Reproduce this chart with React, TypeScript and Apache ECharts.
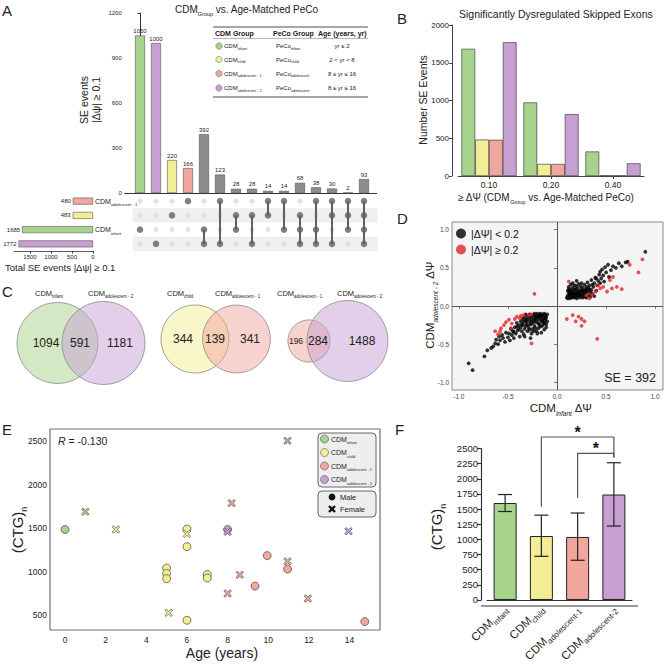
import React, { useEffect, useRef } from 'react';
import * as echarts from 'echarts';

const FONT = '"Liberation Sans", Arial, Helvetica, sans-serif';
const INK = '#222222';
const GREEN = '#a8d38c';
const YELLOW = '#f3ed96';
const SALMON = '#f2a69d';
const PURPLE = '#c89fd3';
const GRAY = '#8c8c8c';

// ---------- Panel A : UpSet ----------
const upsetCounts = [1050, 1000, 220, 166, 392, 123, 28, 28, 14, 14, 68, 38, 30, 2, 93];
// row indices: 0 adolescent-1, 1 child, 2 infant, 3 adolescent-2
const upsetMembers = [[2], [3], [1], [0], [2, 3], [0, 3], [1, 2], [1, 3], [0, 1], [0, 2], [1, 2, 3], [0, 2, 3], [0, 1, 3], [0, 1, 2], [0, 1, 2, 3]];
const upsetYTicks = [0, 300, 600, 900, 1200];
const setNames = ['adolescent - 1', 'child', 'infant', 'adolescent - 2'];
const setTotals = [480, 483, 1685, 1772];
const setTotalTicks = [0, 500, 1000, 1500];
const setColors = [SALMON, YELLOW, GREEN, PURPLE];

const tableCdm = ['infant', 'child', 'adolescent - 1', 'adolescent - 2'];
const tablePeco = ['infant', 'child', 'adolescent', 'adolescent'];
const tableAge = ['yr ≤ 2', '2 < yr < 8', '8 ≤ yr ≤ 16', '8 ≤ yr ≤ 16'];
const tableColors = [GREEN, YELLOW, SALMON, PURPLE];

// ---------- Panel B ----------
const bThresholds = ['0.10', '0.20', '0.40'];
const bInfant = [1685, 975, 325];
const bChild = [483, 160, 8];
const bAdol1 = [480, 160, 6];
const bAdol2 = [1772, 820, 168];
const bTicks = [0, 500, 1000, 1500, 2000];

// ---------- Panel C : Venn ----------
const vennSetA = ['infant', 'child', 'adolescent - 1'];
const vennSetB = ['adolescent - 2', 'adolescent - 1', 'adolescent - 2'];
const vennOnlyA = [1094, 344, 196];
const vennBoth = [591, 139, 284];
const vennOnlyB = [1181, 341, 1488];
const vennColorA = [GREEN, YELLOW, SALMON];
const vennColorB = [PURPLE, SALMON, PURPLE];

// ---------- Panel D ----------
const dTicks = [-1, -0.5, 0, 0.5, 1];
const dSmall = [
  [0.10, 0.11], [0.11, 0.14], [0.12, 0.12], [0.12, 0.18], [0.13, 0.10], [0.13, 0.15], [0.14, 0.21], [0.14, 0.12], [0.15, 0.17], [0.15, 0.11],
  [0.16, 0.24], [0.16, 0.13], [0.17, 0.19], [0.17, 0.11], [0.18, 0.15], [0.18, 0.27], [0.19, 0.12], [0.19, 0.21], [0.20, 0.17], [0.20, 0.10],
  [0.21, 0.23], [0.21, 0.13], [0.22, 0.19], [0.22, 0.29], [0.23, 0.11], [0.23, 0.16], [0.24, 0.21], [0.24, 0.26], [0.25, 0.13], [0.25, 0.18],
  [0.26, 0.24], [0.26, 0.11], [0.27, 0.20], [0.27, 0.15], [0.28, 0.28], [0.28, 0.12], [0.29, 0.22], [0.29, 0.17], [0.30, 0.25], [0.30, 0.11],
  [0.31, 0.19], [0.31, 0.31], [0.32, 0.14], [0.32, 0.23], [0.33, 0.27], [0.34, 0.18], [0.34, 0.12], [0.35, 0.21], [0.35, 0.34], [0.36, 0.16],
  [0.37, 0.25], [0.38, 0.30], [0.38, 0.13], [0.39, 0.37], [0.40, 0.20], [0.41, 0.27], [0.42, 0.33], [0.43, 0.41], [0.44, 0.30], [0.45, 0.36],
  [0.46, 0.48], [0.47, 0.40], [0.48, 0.32], [0.49, 0.51], [0.50, 0.44], [0.52, 0.54], [0.53, 0.38], [0.55, 0.47], [0.57, 0.52], [0.60, 0.50],
  [0.63, 0.56], [0.66, 0.52], [0.70, 0.57], [0.72, 0.58], [0.90, 0.71], [0.11, 0.20], [0.12, 0.25], [0.14, 0.28], [0.16, 0.30], [0.13, 0.17],
  [0.18, 0.22], [0.20, 0.26], [0.19, 0.15], [0.15, 0.14], [0.21, 0.18], [0.24, 0.15], [0.26, 0.20], [0.11, 0.10], [0.17, 0.16], [0.22, 0.14],
  [0.28, 0.17], [0.30, 0.20], [0.33, 0.22], [0.36, 0.28], [0.40, 0.36], [0.44, 0.45], [0.25, 0.30], [0.20, 0.33], [0.12, 0.22], [0.15, 0.19],
  [-0.10, -0.11], [-0.11, -0.15], [-0.12, -0.12], [-0.12, -0.19], [-0.13, -0.10], [-0.13, -0.23], [-0.14, -0.14], [-0.14, -0.17], [-0.15, -0.11], [-0.15, -0.26],
  [-0.16, -0.13], [-0.16, -0.20], [-0.17, -0.10], [-0.17, -0.16], [-0.18, -0.24], [-0.18, -0.12], [-0.19, -0.18], [-0.19, -0.29], [-0.20, -0.14], [-0.20, -0.10],
  [-0.21, -0.21], [-0.21, -0.33], [-0.22, -0.12], [-0.22, -0.17], [-0.23, -0.26], [-0.23, -0.10], [-0.24, -0.15], [-0.24, -0.21], [-0.25, -0.30], [-0.25, -0.12],
  [-0.26, -0.18], [-0.26, -0.36], [-0.27, -0.24], [-0.27, -0.14], [-0.28, -0.11], [-0.28, -0.20], [-0.29, -0.28], [-0.29, -0.16], [-0.30, -0.13], [-0.30, -0.33],
  [-0.31, -0.22], [-0.31, -0.18], [-0.32, -0.26], [-0.32, -0.11], [-0.33, -0.15], [-0.33, -0.30], [-0.34, -0.21], [-0.34, -0.37], [-0.35, -0.25], [-0.35, -0.17],
  [-0.36, -0.33], [-0.37, -0.28], [-0.37, -0.20], [-0.38, -0.40], [-0.39, -0.25], [-0.40, -0.32], [-0.41, -0.22], [-0.42, -0.36], [-0.43, -0.28], [-0.44, -0.42],
  [-0.45, -0.33], [-0.46, -0.38], [-0.47, -0.30], [-0.48, -0.45], [-0.49, -0.36], [-0.50, -0.41], [-0.52, -0.35], [-0.53, -0.47], [-0.55, -0.42], [-0.56, -0.38],
  [-0.58, -0.45], [-0.59, -0.40], [-0.60, -0.50], [-0.62, -0.44], [-0.63, -0.49], [-0.65, -0.53], [-0.67, -0.55], [-0.71, -0.58], [-0.74, -0.66], [-0.90, -0.75],
  [-0.86, -0.84], [-0.11, -0.28], [-0.13, -0.31], [-0.15, -0.19], [-0.17, -0.27], [-0.19, -0.23], [-0.20, -0.36], [-0.22, -0.29], [-0.24, -0.33], [-0.16, -0.35],
  [-0.14, -0.22], [-0.12, -0.16], [-0.18, -0.14], [-0.21, -0.15], [-0.23, -0.19], [-0.26, -0.23], [-0.28, -0.31], [-0.30, -0.25], [-0.32, -0.19], [-0.36, -0.24],
  [-0.39, -0.30], [-0.41, -0.27], [-0.44, -0.34], [-0.27, -0.42], [-0.33, -0.40], [-0.10, -0.20], [-0.11, -0.24],
];
const dLarge = [
  [0.12, 0.32], [0.33, 0.10], [0.30, 0.14], [0.39, 0.19], [0.44, 0.23], [0.47, 0.25], [0.51, 0.19], [0.54, 0.34], [0.57, 0.38], [0.56, 0.23],
  [0.61, 0.25], [0.66, 0.22], [0.74, 0.54], [0.87, 0.61], [0.83, 0.44], [0.42, 0.27], [0.36, 0.15],
  [0.10, -0.17], [0.16, -0.12], [0.22, -0.14], [0.19, -0.20], [0.28, -0.20], [0.25, -0.26], [0.25, -0.17], [0.41, -0.43],
  [-0.23, 0.16],
  [-0.63, -0.33], [-0.57, -0.29], [-0.54, -0.25], [-0.49, -0.18], [-0.46, -0.23], [-0.41, -0.14], [-0.37, -0.13], [-0.29, -0.12], [-0.26, -0.11],
  [-0.34, -0.12], [-0.47, -0.29], [-0.60, -0.37], [-0.52, -0.21], [-0.43, -0.17], [-0.26, -0.49], [-0.58, -0.33], [-0.38, -0.16],
];

// ---------- Panel E ----------
const eAgeTicks = [0, 2, 4, 6, 8, 10, 12, 14];
const eCtgTicks = [500, 1000, 1500, 2000, 2500];
const eInfantAge = [0, 1];
const eInfantCtg = [1485, 1690];
const eInfantSex = ['M', 'F'];
const eChildAge = [2.5, 5, 5, 5, 5.1, 6, 6, 6, 6, 7, 7];
const eChildCtg = [1485, 1042, 980, 920, 527, 1490, 1435, 1288, 442, 968, 927];
const eChildSex = ['F', 'M', 'M', 'M', 'F', 'M', 'F', 'M', 'M', 'M', 'M'];
const eAdol1Age = [8.2, 8, 8.6, 9.35, 9.95, 10.95, 10.95, 11.95, 14.75];
const eAdol1Ctg = [1788, 750, 965, 835, 1185, 1119, 1031, 692, 427];
const eAdol1Sex = ['F', 'F', 'F', 'M', 'M', 'F', 'M', 'F', 'M'];
const eAdol2Age = [8, 8, 10.95, 13.95];
const eAdol2Ctg = [1485, 1458, 2505, 1465];
const eAdol2Sex = ['M', 'F', 'F', 'F'];

// ---------- Panel F ----------
const fGroups = ['infant', 'child', 'adolescent-1', 'adolescent-2'];
const fMeans = [1600, 1055, 1040, 1740];
const fLow = [1460, 720, 655, 1220];
const fHigh = [1740, 1400, 1435, 2265];
const fColors = [GREEN, YELLOW, SALMON, PURPLE];
// [from group, to group, top, left leg end, right leg end]
const fBrackets = [[1, 3, 2690, 1540, 2350], [2, 3, 2420, 1685, 2350]];

const X_PATH = 'path://M1.8,0 L5,3.2 L8.2,0 L10,1.8 L6.8,5 L10,8.2 L8.2,10 L5,6.8 L1.8,10 L0,8.2 L3.2,5 L0,1.8 Z';

function rgba(hex: string, a: number) {
  const n = parseInt(hex.slice(1), 16);
  return `rgba(${(n >> 16) & 255},${(n >> 8) & 255},${n & 255},${a})`;
}

const plain = (v: number) => String(v);

function rich(size: number, sub: number, o: any = {}) {
  const fill = o.fill || INK;
  const base = { fontFamily: FONT, fill, color: fill };
  const lh = Math.round(size * 1.5);
  return {
    m: { ...base, fontSize: size, lineHeight: lh },
    s: { ...base, fontSize: sub, lineHeight: sub, verticalAlign: 'bottom', fontStyle: o.subItalic ? 'italic' : 'normal' },
    i: { ...base, fontSize: size, lineHeight: lh, fontStyle: 'italic' },
    b: { ...base, fontSize: size, lineHeight: lh, fontWeight: 'bold' },
  };
}

function txt(x: number, y: number, text: string, size: number, o: any = {}) {
  const align = o.align || 'left';
  const va = o.va || 'middle';
  return {
    type: 'text', x, y, rotation: o.rot || 0, silent: true, z: 50,
    style: {
      text, fontSize: size, fontFamily: FONT, fill: o.fill || INK,
      fontWeight: o.weight || 'normal', fontStyle: o.italic ? 'italic' : 'normal',
      align, verticalAlign: va, textAlign: align, textVerticalAlign: va,
      lineHeight: o.lh, rich: o.rich,
    },
  };
}

function buildOption() {
  const g: any[] = [];
  // panel letters
  g.push(txt(2, 10.5, 'A', 15), txt(397, 18, 'B', 15), txt(2, 291, 'C', 15), txt(397, 218, 'D', 15), txt(2, 429, 'E', 15), txt(395, 429, 'F', 15));

  // Panel A title and table
  g.push(txt(175, 9, '{m|CDM}{s|Group}{m| vs. Age-Matched PeCo}', 10, { rich: rich(10, 5.5) }));
  g.push({ type: 'line', silent: true, shape: { x1: 213, y1: 27, x2: 368, y2: 27 }, style: { stroke: '#8a8a8a', lineWidth: 1.5 } });
  g.push({ type: 'line', silent: true, shape: { x1: 213, y1: 38.5, x2: 368, y2: 38.5 }, style: { stroke: '#9a9a9a', lineWidth: 0.7 } });
  g.push({ type: 'line', silent: true, shape: { x1: 213, y1: 97, x2: 368, y2: 97 }, style: { stroke: '#8a8a8a', lineWidth: 1.5 } });
  g.push(txt(215, 33, 'CDM Group', 7, { weight: 'bold' }), txt(273, 33, 'PeCo Group', 7, { weight: 'bold' }), txt(318, 33, 'Age (years, yr)', 7, { weight: 'bold' }));
  const rowY = [46, 59.5, 73.5, 88];
  tableCdm.forEach((c, i) => {
    g.push({ type: 'circle', silent: true, shape: { cx: 219, cy: rowY[i], r: 3.2 }, style: { fill: tableColors[i], stroke: '#777', lineWidth: 0.6 } });
    g.push(txt(224, rowY[i], `{m|CDM}{s|${c}}`, 6, { rich: rich(6, 3.8) }));
    g.push(txt(276, rowY[i], `{m|PeCo}{s|${tablePeco[i]}}`, 6, { rich: rich(6, 3.8) }));
    g.push(txt(342, rowY[i], tableAge[i], 6, { align: 'center' }));
  });
  g.push(txt(90, 100, 'SE events\n|Δψ| ≥ 0.1', 10.5, { rot: Math.PI / 2, align: 'center', lh: 12.5 }));
  g.push(txt(5, 267, 'Total SE events |Δψ| ≥ 0.1', 9.5));

  // Panel B texts
  g.push(txt(459, 14, 'Significantly Dysregulated Skipped Exons', 10.5));
  g.push(txt(423, 100, 'Number SE Events', 10.5, { rot: Math.PI / 2, align: 'center' }));
  g.push(txt(458, 197, '{m|≥ ΔΨ (CDM}{s|Group}{m| vs. Age-Matched PeCo)}', 10, { rich: rich(10, 5.5) }));

  // Panel C Venn diagrams
  const vScale = [0.986, 1.547, 0.962];
  const vCxA = [57.5, 195, 309];
  const vCxB = [103.5, 236.5, 347.5];
  const vCy = [343, 339, 341];
  const vLabA = [35, 167, 277];
  const vLabB = [88, 215, 337];
  const vNumA = [46, 183, 296];
  const vNumBoth = [80, 215, 318];
  const vNumB = [120, 250, 362];
  vennSetA.forEach((a, k) => {
    const rA = vScale[k] * Math.sqrt(vennOnlyA[k] + vennBoth[k]);
    const rB = vScale[k] * Math.sqrt(vennOnlyB[k] + vennBoth[k]);
    g.push({ type: 'circle', silent: true, z: 10, shape: { cx: vCxA[k], cy: vCy[k], r: rA }, style: { fill: rgba(vennColorA[k], 0.5), stroke: '#8a8a8a', lineWidth: 0.8 } });
    g.push({ type: 'circle', silent: true, z: 11, shape: { cx: vCxB[k], cy: vCy[k], r: rB }, style: { fill: rgba(vennColorB[k], 0.5), stroke: '#8a8a8a', lineWidth: 0.8 } });
    g.push(txt(vLabA[k], 293, `{m|CDM}{s|${a}}`, 7.5, { rich: rich(7.5, 4.5) }));
    g.push(txt(vLabB[k], 293, `{m|CDM}{s|${vennSetB[k]}}`, 7.5, { rich: rich(7.5, 4.5) }));
    g.push(txt(vNumA[k], vCy[k], String(vennOnlyA[k]), k === 2 ? 8.5 : 12, { align: 'center' }));
    g.push(txt(vNumBoth[k], vCy[k], String(vennBoth[k]), 12, { align: 'center' }));
    g.push(txt(vNumB[k], vCy[k], String(vennOnlyB[k]), 12, { align: 'center' }));
  });

  // Panel D texts
  g.push(txt(656, 378, 'SE = 392', 12.5, { align: 'right' }));
  g.push(txt(561, 408, '{m|CDM}{s|infant}{m| ΔΨ}', 11.5, { align: 'center', rich: rich(11.5, 6.5, { subItalic: true }) }));
  g.push(txt(430, 305, '{m|CDM}{s|adolescent - 2}{m| ΔΨ}', 11.5, { align: 'center', rot: Math.PI / 2, rich: rich(11.5, 6.5, { subItalic: true }) }));

  // Panel E texts & legend
  g.push(txt(58, 441, '{i|R}{m| = -0.130}', 10.5, { rich: rich(10.5, 6) }));
  g.push(txt(222, 653, 'Age (years)', 14, { align: 'center' }));
  g.push(txt(17, 530, '{m|(CTG)}{s|n}', 15, { align: 'center', rot: Math.PI / 2, rich: rich(15, 9) }));
  g.push({ type: 'rect', silent: true, z: 40, shape: { x: 318, y: 433, width: 58, height: 54, r: 4 }, style: { fill: '#eeeeee', stroke: '#666', lineWidth: 1 } });
  g.push({ type: 'rect', silent: true, z: 40, shape: { x: 318, y: 491, width: 58, height: 26, r: 4 }, style: { fill: '#eeeeee', stroke: '#666', lineWidth: 1 } });
  const legY = [439, 452.5, 466, 479.5];
  tableCdm.forEach((c, i) => {
    g.push({ type: 'circle', silent: true, z: 45, shape: { cx: 324.5, cy: legY[i], r: 4 }, style: { fill: tableColors[i], stroke: '#666', lineWidth: 0.7 } });
    g.push(txt(331, legY[i], `{m|CDM}{s|${c}}`, 7, { rich: rich(7, 4) }));
  });
  g.push({ type: 'circle', silent: true, z: 45, shape: { cx: 332, cy: 497, r: 3.4 }, style: { fill: '#111' } });
  g.push({ type: 'line', silent: true, z: 45, shape: { x1: 329, y1: 506, x2: 335, y2: 512 }, style: { stroke: '#111', lineWidth: 2.4 } });
  g.push({ type: 'line', silent: true, z: 45, shape: { x1: 335, y1: 506, x2: 329, y2: 512 }, style: { stroke: '#111', lineWidth: 2.4 } });
  g.push(txt(340, 497, 'Male', 7.5), txt(340, 509, 'Female', 7.5));

  // Panel F texts and extended baseline
  g.push(txt(436, 527, '{m|(CTG)}{s|n}', 15, { align: 'center', rot: Math.PI / 2, rich: rich(15, 9) }));
  g.push({ type: 'line', silent: true, z: 5, shape: { x1: 481, y1: 606, x2: 638, y2: 606 }, style: { stroke: '#333', lineWidth: 1.2 } });

  // ---------- derived data ----------
  const activeDots: number[][] = [];
  const inactiveDots: number[][] = [];
  const links: number[][] = [];
  upsetMembers.forEach((s, c) => {
    for (let r = 0; r < 4; r++) (s.includes(r) ? activeDots : inactiveDots).push([c, r]);
    if (s.length > 1) links.push([c, Math.min(...s), Math.max(...s)]);
  });

  const eGroups = [
    { age: eInfantAge, ctg: eInfantCtg, sex: eInfantSex, color: GREEN, name: 'infant' },
    { age: eChildAge, ctg: eChildCtg, sex: eChildSex, color: YELLOW, name: 'child' },
    { age: eAdol1Age, ctg: eAdol1Ctg, sex: eAdol1Sex, color: SALMON, name: 'adolescent-1' },
    { age: eAdol2Age, ctg: eAdol2Ctg, sex: eAdol2Sex, color: PURPLE, name: 'adolescent-2' },
  ];
  const eSeries: any[] = [];
  eGroups.forEach((grp) => {
    ['M', 'F'].forEach((sx) => {
      const data = grp.age.map((a, i) => [a, grp.ctg[i], grp.sex[i]]).filter((d) => d[2] === sx).map((d) => [d[0], d[1]]);
      eSeries.push({
        type: 'scatter', name: `${grp.name} ${sx}`, xAxisIndex: 5, yAxisIndex: 5, data,
        symbol: sx === 'M' ? 'circle' : X_PATH, symbolSize: sx === 'M' ? 8 : 7.5,
        itemStyle: { color: grp.color, borderColor: '#555', borderWidth: sx === 'M' ? 0.8 : 0.7, opacity: 1 },
        z: 5,
      });
    });
  });

  const axisTxt = (size: number) => ({ fontSize: size, color: INK, fontFamily: FONT });

  return {
    animation: false,
    backgroundColor: '#ffffff',
    textStyle: { fontFamily: FONT },
    grid: [
      { left: 124.8, top: 13, width: 252, height: 180 },
      { left: 124.8, top: 194, width: 252, height: 57 },
      { left: 14, top: 194, width: 79, height: 57 },
      { left: 458, top: 25, width: 186, height: 151 },
      { left: 452, top: 222, width: 211, height: 168, show: true, backgroundColor: '#f4f4f4', borderColor: '#8a8a8a', borderWidth: 1 },
      { left: 50, top: 429, width: 330, height: 201, show: true, backgroundColor: '#ffffff', borderColor: '#707070', borderWidth: 1.2 },
      { left: 487, top: 448.5, width: 145, height: 157.5 },
    ],
    xAxis: [
      { gridIndex: 0, type: 'value', min: -0.95, max: 14.8, axisLine: { show: true, lineStyle: { color: '#333', width: 1 } }, axisTick: { show: false }, axisLabel: { show: false }, splitLine: { show: false } },
      { gridIndex: 1, type: 'value', min: -0.95, max: 14.8, show: false },
      {
        gridIndex: 2, type: 'value', inverse: true, min: 0, max: 1880,
        axisLine: { show: true, lineStyle: { color: '#333', width: 0.8 } },
        axisTick: { show: true, length: 2.5, customValues: setTotalTicks, lineStyle: { color: '#333' } },
        axisLabel: { ...axisTxt(6), margin: 2.5, customValues: setTotalTicks, formatter: plain }, splitLine: { show: false },
      },
      {
        gridIndex: 3, type: 'category', data: bThresholds,
        axisLine: { show: true, lineStyle: { color: '#444', width: 1 } },
        axisTick: { show: true, alignWithLabel: true, length: 3, lineStyle: { color: '#444' } },
        axisLabel: { ...axisTxt(8.5), margin: 4 },
      },
      {
        gridIndex: 4, type: 'value', min: -1.07, max: 1.08,
        axisLine: { show: false }, splitLine: { show: false },
        axisTick: { show: true, length: 3, customValues: dTicks, lineStyle: { color: '#777' } },
        axisLabel: { ...axisTxt(6.5), color: '#444', margin: 3, customValues: dTicks, formatter: (v: number) => v.toFixed(1) },
      },
      {
        gridIndex: 5, type: 'value', min: -0.74, max: 15.5,
        axisLine: { show: false }, axisTick: { show: false }, splitLine: { show: false },
        axisLabel: { ...axisTxt(8.5), margin: 5, customValues: eAgeTicks, formatter: plain },
      },
      {
        gridIndex: 6, type: 'category', data: fGroups,
        axisLine: { show: true, lineStyle: { color: '#333', width: 1.2 } }, axisTick: { show: false },
        axisLabel: {
          rotate: 45, margin: 7, interval: 0,
          formatter: (v: string) => `{m|CDM}{s|${v}}`, rich: rich(11.5, 8),
        },
      },
    ],
    yAxis: [
      {
        gridIndex: 0, type: 'value', min: 0, max: 1200, interval: 300,
        axisLine: { show: true, lineStyle: { color: '#333', width: 1 } },
        axisTick: { show: true, length: 2.5, lineStyle: { color: '#333' } },
        axisLabel: { ...axisTxt(6), margin: 3, customValues: upsetYTicks, formatter: plain }, splitLine: { show: false },
      },
      { gridIndex: 1, type: 'category', data: setNames, inverse: true, show: false },
      {
        gridIndex: 2, type: 'category', data: setNames, inverse: true, position: 'right',
        axisLine: { show: false }, axisTick: { show: false },
        axisLabel: { margin: 2, formatter: (v: string) => `{m|CDM}{s|${v}}`, rich: rich(7, 4.2) },
      },
      {
        gridIndex: 3, type: 'value', min: 0, max: 2000, interval: 500, offset: 6,
        axisLine: { show: true, lineStyle: { color: '#444', width: 1 } },
        axisTick: { show: true, length: 3, lineStyle: { color: '#444' } },
        axisLabel: { ...axisTxt(8), margin: 3, customValues: bTicks, formatter: plain }, splitLine: { show: false },
      },
      {
        gridIndex: 4, type: 'value', min: -1.1, max: 1.1,
        axisLine: { show: false }, splitLine: { show: false },
        axisTick: { show: true, length: 3, customValues: dTicks, lineStyle: { color: '#777' } },
        axisLabel: { ...axisTxt(6.5), color: '#444', margin: 3, customValues: dTicks, formatter: (v: number) => v.toFixed(1) },
      },
      {
        gridIndex: 5, type: 'value', min: 330, max: 2640,
        axisLine: { show: false }, axisTick: { show: false }, splitLine: { show: false },
        axisLabel: { ...axisTxt(8.5), margin: 3, customValues: eCtgTicks, formatter: plain },
      },
      {
        gridIndex: 6, type: 'value', min: 0, max: 2500, interval: 250, offset: 6,
        axisLine: { show: true, lineStyle: { color: '#333', width: 1.2 } },
        axisTick: { show: true, length: 4, lineStyle: { color: '#333', width: 1.2 } },
        axisLabel: { ...axisTxt(9.5), margin: 3, formatter: plain }, splitLine: { show: false },
      },
    ],
    legend: [{
      show: true, selectedMode: false, data: ['|ΔΨ| < 0.2', '|ΔΨ| ≥ 0.2'],
      left: 456, top: 228, orient: 'vertical', icon: 'circle', itemWidth: 10, itemHeight: 10, itemGap: 5, padding: 0,
      textStyle: { fontSize: 10.5, color: '#111', fontFamily: FONT },
    }],
    series: [
      // A: intersection bars
      {
        type: 'bar', xAxisIndex: 0, yAxisIndex: 0, barWidth: 10,
        data: upsetCounts.map((v, i) => ({ value: [i, v], itemStyle: { color: i < 4 ? setColors[upsetMembers[i][0]] : GRAY } })),
        itemStyle: { borderColor: '#555', borderWidth: 0.6 },
        label: { show: true, position: 'top', distance: 1.5, fontSize: 6, color: INK, fontFamily: FONT, formatter: (p: any) => String(p.value[1]) },
      },
      // A: matrix bands
      {
        type: 'custom', xAxisIndex: 1, yAxisIndex: 1, silent: true, z: 1,
        data: [[-0.45, 1], [-0.45, 3]],
        renderItem: (params: any, api: any) => {
          const r = api.value(1);
          const p0 = api.coord([-0.45, r]);
          const p1 = api.coord([14.85, r]);
          const h = api.size([0, 1])[1];
          return { type: 'rect', shape: { x: p0[0], y: p0[1] - h / 2, width: p1[0] - p0[0], height: h }, style: { fill: '#efefef' } };
        },
      },
      { type: 'scatter', xAxisIndex: 1, yAxisIndex: 1, data: inactiveDots, symbolSize: 5, itemStyle: { color: '#dadada' }, z: 2, silent: true },
      {
        type: 'custom', xAxisIndex: 1, yAxisIndex: 1, silent: true, z: 3, data: links,
        encode: { x: 0, y: [1, 2] },
        renderItem: (params: any, api: any) => {
          const a = api.coord([api.value(0), api.value(1)]);
          const b = api.coord([api.value(0), api.value(2)]);
          return { type: 'line', shape: { x1: a[0], y1: a[1], x2: b[0], y2: b[1] }, style: { stroke: '#606060', lineWidth: 2 } };
        },
      },
      { type: 'scatter', xAxisIndex: 1, yAxisIndex: 1, data: activeDots, symbolSize: 6.5, itemStyle: { color: '#606060' }, z: 4, silent: true },
      // A: set totals
      {
        type: 'bar', xAxisIndex: 2, yAxisIndex: 2, barWidth: 7,
        data: setTotals.map((v, i) => ({ value: v, itemStyle: { color: setColors[i] } })),
        itemStyle: { borderColor: '#555', borderWidth: 0.6 },
        label: { show: true, position: 'left', distance: 2, fontSize: 6, color: INK, fontFamily: FONT },
      },
      // B
      ...[bInfant, bChild, bAdol1, bAdol2].map((arr, k) => ({
        type: 'bar', xAxisIndex: 3, yAxisIndex: 3, data: arr, barGap: '0%', barCategoryGap: '11%',
        itemStyle: { color: [GREEN, YELLOW, SALMON, PURPLE][k], borderColor: '#444', borderWidth: 0.7 },
      })),
      // D
      {
        type: 'scatter', name: '|ΔΨ| < 0.2', xAxisIndex: 4, yAxisIndex: 4, data: dSmall, symbolSize: 3.8, itemStyle: { color: '#000000' }, z: 4,
        markLine: {
          silent: true, symbol: ['none', 'none'], label: { show: false },
          lineStyle: { color: '#555', width: 1, type: 'solid' },
          data: [{ xAxis: 0 }, { yAxis: 0 }],
        },
      },
      { type: 'scatter', name: '|ΔΨ| ≥ 0.2', xAxisIndex: 4, yAxisIndex: 4, data: dLarge, symbolSize: 3.8, itemStyle: { color: '#e0262a' }, z: 5 },
      // E
      ...eSeries,
      // F
      {
        type: 'bar', xAxisIndex: 6, yAxisIndex: 6, barWidth: 23,
        data: fMeans.map((v, i) => ({ value: v, itemStyle: { color: fColors[i] } })),
        itemStyle: { borderColor: '#222', borderWidth: 1 },
      },
      {
        type: 'custom', xAxisIndex: 6, yAxisIndex: 6, z: 6, silent: true,
        data: fMeans.map((_, i) => [i, fLow[i], fHigh[i]]),
        encode: { x: 0, y: [1, 2] },
        renderItem: (params: any, api: any) => {
          const lo = api.coord([api.value(0), api.value(1)]);
          const hi = api.coord([api.value(0), api.value(2)]);
          const w = 7;
          const st = { stroke: '#222', lineWidth: 1.2 };
          return {
            type: 'group', children: [
              { type: 'line', shape: { x1: lo[0], y1: lo[1], x2: hi[0], y2: hi[1] }, style: st },
              { type: 'line', shape: { x1: hi[0] - w, y1: hi[1], x2: hi[0] + w, y2: hi[1] }, style: st },
              { type: 'line', shape: { x1: lo[0] - w, y1: lo[1], x2: lo[0] + w, y2: lo[1] }, style: st },
            ],
          };
        },
      },
      {
        type: 'custom', xAxisIndex: 6, yAxisIndex: 6, z: 6, silent: true, clip: false,
        data: fBrackets,
        encode: { x: [0, 1], y: [2, 3, 4] },
        renderItem: (params: any, api: any) => {
          const x1 = api.value(0), x2 = api.value(1), top = api.value(2), l1 = api.value(3), l2 = api.value(4);
          const a = api.coord([x1, l1]);
          const b = api.coord([x1, top]);
          const c = api.coord([x2, top]);
          const d = api.coord([x2, l2]);
          return {
            type: 'group', children: [
              { type: 'polyline', shape: { points: [a, b, c, d] }, style: { stroke: '#555', lineWidth: 1.2, fill: 'none' } },
              {
                type: 'text', x: (b[0] + c[0]) / 2, y: b[1] - 4.5,
                style: { text: '*', fontSize: 16, fontWeight: 'bold', fontFamily: FONT, fill: '#111', align: 'center', verticalAlign: 'middle', textAlign: 'center', textVerticalAlign: 'middle' },
              },
            ],
          };
        },
      },
    ],
    graphic: { elements: g },
  };
}

export default function App() {
  const ref = useRef<HTMLDivElement>(null);
  useEffect(() => {
    if (!ref.current) return;
    const chart = echarts.init(ref.current, null, { renderer: 'svg' });
    chart.setOption(buildOption() as any);
    return () => chart.dispose();
  }, []);
  return <div ref={ref} style={{ position: 'fixed', left: 0, top: 0, width: 666, height: 666, background: '#fff' }} />;
}
